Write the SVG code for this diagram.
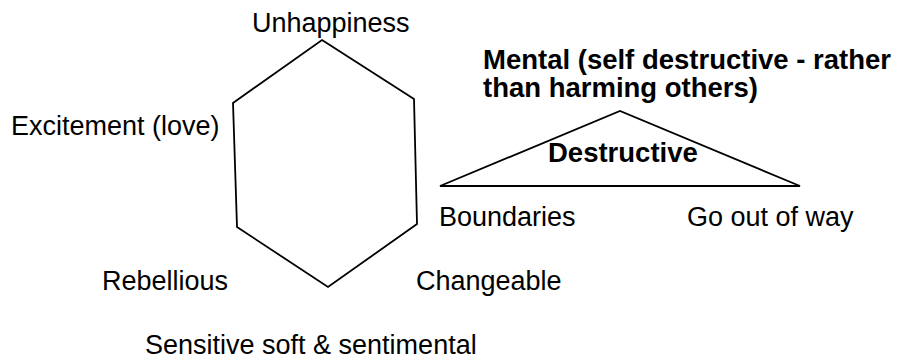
<svg xmlns="http://www.w3.org/2000/svg" width="898" height="360" viewBox="0 0 898 360">
<style>
.t{font-family:"Liberation Sans",Arial,sans-serif;font-size:27px;fill:#000}
.b{font-weight:bold;font-size:27.5px}
.s{fill:none;stroke:#000;stroke-width:1.8;stroke-linejoin:miter}
</style>
<rect width="898" height="360" fill="#fff"/>
<g id="hexagon">
<polygon class="s" points="322,40 414,99 417,224 328,287 237,227 233,103"/>
</g>
<g id="triangle">
<polygon class="s" points="440,186 620,111 800,186"/>
</g>
<g id="labels">
<text class="t" x="252" y="32">Unhappiness</text>
<text class="t" x="11" y="135">Excitement (love)</text>
<text class="t" x="102" y="290">Rebellious</text>
<text class="t" x="416" y="290">Changeable</text>
<text class="t" x="145" y="354">Sensitive soft &amp; sentimental</text>
<text class="t" x="439" y="226">Boundaries</text>
<text class="t" x="687" y="226">Go out of way</text>
<text class="t b" x="483" y="69">Mental (self destructive - rather</text>
<text class="t b" x="483" y="97">than harming others)</text>
<text class="t b" x="548" y="162">Destructive</text>
</g>
</svg>
